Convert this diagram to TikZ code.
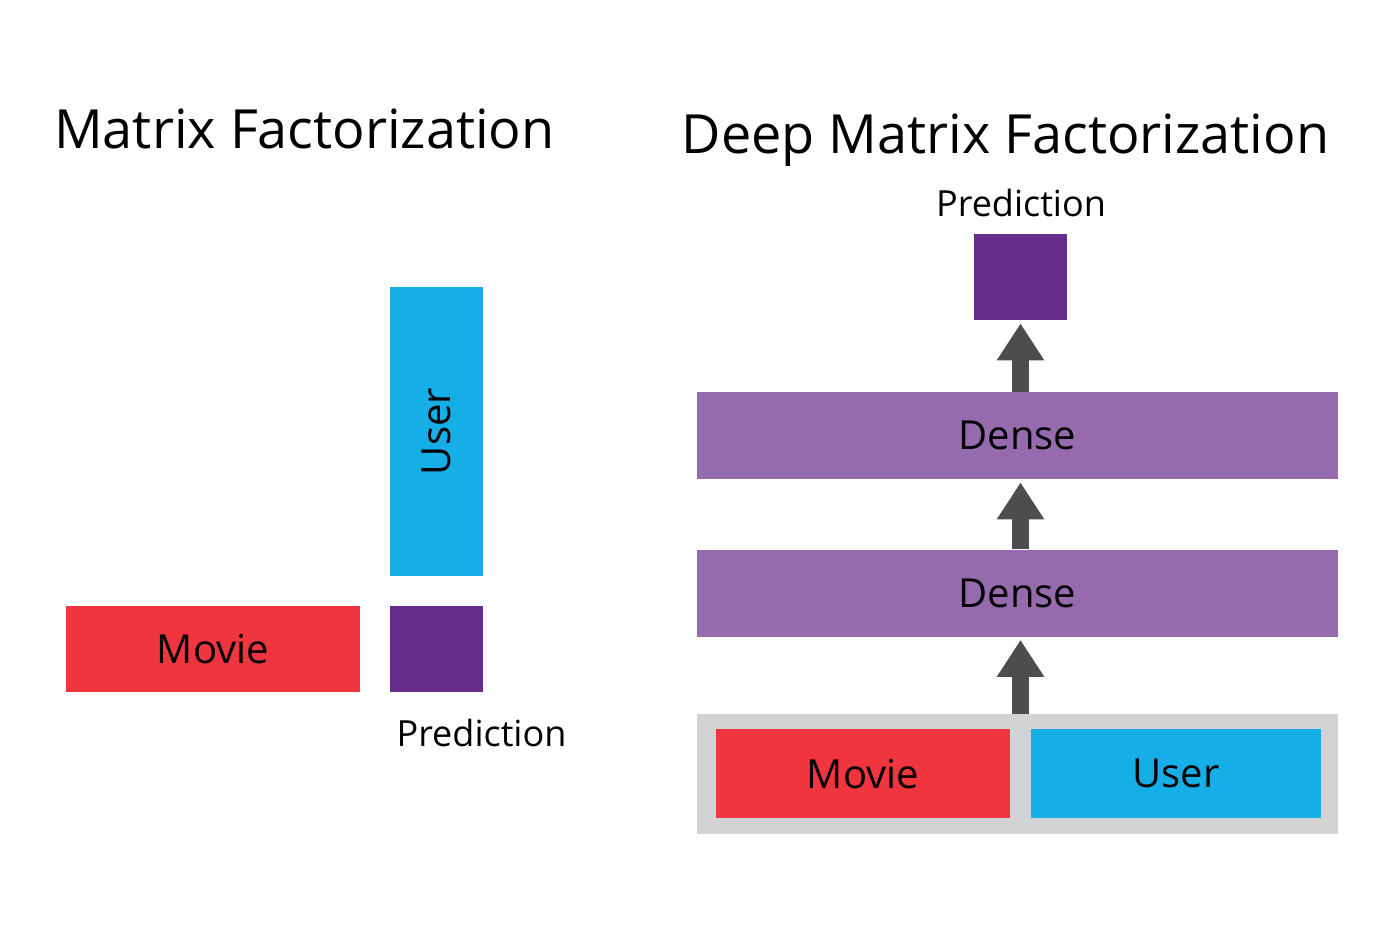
\documentclass[tikz,border=0pt]{standalone}
\usepackage{fontspec}
\setmainfont{Open Sans}
\usetikzlibrary{arrows.meta}
\definecolor{movieRed}{HTML}{F1353F}
\definecolor{userBlue}{HTML}{16AEE6}
\definecolor{predPurple}{HTML}{662D8C}
\definecolor{densePurple}{HTML}{966BAD}
\definecolor{inputGray}{HTML}{D2D3D5}
\definecolor{arrowGray}{HTML}{4D4D4D}
\def\px{0.5pt}
\def\titleFont{\fontsize{27}{32}\selectfont}
\def\labelFont{\fontsize{18}{22}\selectfont}
\def\boxFont{\fontsize{20}{24}\selectfont}

\begin{document}
\begin{tikzpicture}[
    x=\px, y=-\px,
    box/.style={
      rectangle, inner sep=0pt, font=\boxFont, text=black
    },
    sized/.style 2 args={
      minimum width=#1*\px, minimum height=#2*\px
    },
    fatarrow/.style={
      draw=arrowGray, line width=8.5pt,
      -{Triangle[width=22.5pt, length=18.5pt]}
    }
  ]
    \useasboundingbox (0,0) rectangle (1400,950);

    % left: plain matrix factorization
    \node[font=\titleFont, anchor=base] (titleMF) at (304.5,148) {Matrix Factorization};
    \node[box, sized={93}{289}, fill=userBlue] (userMF) at (436.5,431.5) {\rotatebox{90}{User}};
    \node[box, sized={294}{86}, fill=movieRed] (movieMF) at (213,649) {Movie};
    \node[box, sized={93}{86}, fill=predPurple] (predMF) at (436.5,649) {};
    \node[font=\labelFont, anchor=base] (predMFlabel) at (481.5,746) {Prediction};

    % right: deep matrix factorization
    \node[font=\titleFont, anchor=base] (titleDMF) at (1005.5,153) {Deep Matrix Factorization};
    \node[font=\labelFont, anchor=base] (predDMFlabel) at (1021,216) {Prediction};
    \node[box, sized={93}{86}, fill=predPurple] (predDMF) at (1020.5,277) {};
    \node[box, sized={641}{87}, fill=densePurple] (denseB) at (1017.5,435.5) {Dense};
    \node[box, sized={641}{87}, fill=densePurple] (denseA) at (1017.5,593) {Dense};
    \node[box, sized={641}{120}, fill=inputGray] (input) at (1017.5,774) {};
    \node[box, sized={294}{89}, fill=movieRed] (movieDMF) at (863,773.5) {Movie};
    \node[box, sized={290}{89}, fill=userBlue] (userDMF) at (1176,773.5) {User};

    \draw[fatarrow, shorten >=1.5pt] (predDMF.south |- input.north) -- (predDMF.south |- denseA.south);
    \draw[fatarrow, shorten >=1.5pt] (predDMF.south |- denseA.north) -- (predDMF.south |- denseB.south);
    \draw[fatarrow, shorten >=1.5pt] (predDMF.south |- denseB.north) -- (predDMF.south);
  \end{tikzpicture}
\end{document}
